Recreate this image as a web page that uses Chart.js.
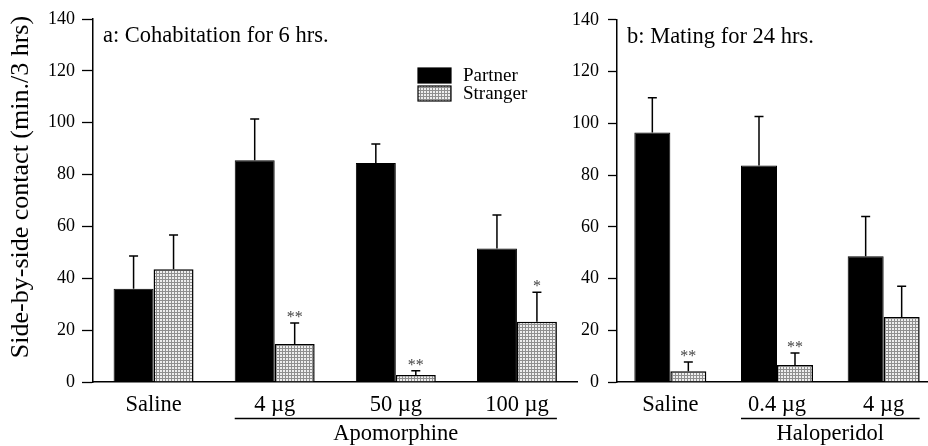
<!DOCTYPE html>
<html>
<head>
<meta charset="utf-8">
<script src="https://cdn.jsdelivr.net/npm/chart.js@4.4.1/dist/chart.umd.min.js"></script>
<style>
  html, body { margin: 0; padding: 0; background: #fff; width: 928px; height: 446px; overflow: hidden; }
  .wrap { position: absolute; top: 0; height: 446px; }
  #wa { left: 0; width: 590px; }
  #wb { left: 540px; width: 400px; }
</style>
</head>
<body>
<div class="wrap" id="wa"><canvas id="ca" width="590" height="446"></canvas></div>
<div class="wrap" id="wb"><canvas id="cb" width="400" height="446"></canvas></div>
<script>
// ---- Data ----
const seriesNames = ['Partner', 'Stranger'];
const yTicks = [0, 20, 40, 60, 80, 100, 120, 140];

const categoriesA = ['Saline', '4 µg', '50 µg', '100 µg'];
const partnerA = [36, 85.5, 84.5, 51.5];
const partnerErrA = [12.6, 15.9, 7.3, 12.9];
const strangerA = [43.5, 14.7, 2.7, 23.2];
const strangerErrA = [13.2, 8.1, 1.6, 11.4];
const sigA = ['', '**', '**', '*'];
const titleA = 'a: Cohabitation for 6 hrs.';
const groupA = { label: 'Apomorphine', from: 1, to: 3 };

const categoriesB = ['Saline', '0.4 µg', '4 µg'];
const partnerB = [96.4, 83.7, 48.6];
const partnerErrB = [13.5, 18.9, 15.4];
const strangerB = [4.2, 6.6, 25.1];
const strangerErrB = [3.5, 4.6, 11.9];
const sigB = ['**', '**', ''];
const titleB = 'b: Mating for 24 hrs.';
const groupB = { label: 'Haloperidol', from: 1, to: 2 };

const yTitle = 'Side-by-side contact (min./3 hrs)';

// ---- Styles ----
const FONT = "'Liberation Serif', 'Times New Roman', serif";

function makePattern() {
  const t = document.createElement('canvas');
  t.width = 3; t.height = 3;
  const c = t.getContext('2d');
  c.fillStyle = '#eeeeee';
  c.fillRect(0, 0, 3, 3);
  c.fillStyle = '#8f8f8f';
  c.fillRect(0, 0, 3, 1);
  c.fillRect(0, 0, 1, 3);
  return c.createPattern(t, 'repeat');
}
const strangerFill = makePattern();

const extras = {
  id: 'extras',
  afterDatasetsDraw(chart, args, opts) {
    const ctx = chart.ctx;
    const ys = chart.scales.y;
    const ca = chart.chartArea;
    ctx.save();
    // error bars
    ctx.strokeStyle = '#000';
    ctx.lineWidth = 1.5;
    opts.errors.forEach((errs, d) => {
      const meta = chart.getDatasetMeta(d);
      const vals = chart.data.datasets[d].data;
      meta.data.forEach((el, i) => {
        const top = ys.getPixelForValue(vals[i] + errs[i]);
        ctx.beginPath();
        ctx.moveTo(el.x, el.y);
        ctx.lineTo(el.x, top);
        ctx.moveTo(el.x - 4.5, top);
        ctx.lineTo(el.x + 4.5, top);
        ctx.stroke();
        if (d === 1 && opts.sig[i]) {
          ctx.fillStyle = '#444';
          ctx.font = '16px ' + FONT;
          ctx.textAlign = 'center';
          ctx.textBaseline = 'alphabetic';
          ctx.fillText(opts.sig[i], el.x, top - 1);
        }
      });
    });
    // panel title
    ctx.fillStyle = '#000';
    ctx.font = '22.5px ' + FONT;
    ctx.textAlign = 'left';
    ctx.textBaseline = 'alphabetic';
    ctx.fillText(opts.title, ca.left + 10, ca.top + 23);
    // group underline + label
    const m0 = chart.getDatasetMeta(0), m1 = chart.getDatasetMeta(1);
    const x0 = m0.data[opts.group.from].x - m0.data[opts.group.from].width / 2;
    const x1 = m1.data[opts.group.to].x + m1.data[opts.group.to].width / 2;
    ctx.lineWidth = 1.3;
    ctx.beginPath();
    ctx.moveTo(x0, ca.bottom + 36.5);
    ctx.lineTo(x1, ca.bottom + 36.5);
    ctx.stroke();
    ctx.font = '22.5px ' + FONT;
    ctx.textAlign = 'center';
    ctx.fillText(opts.group.label, (x0 + x1) / 2, ca.bottom + 58);
    // y title
    if (opts.yTitle) {
      ctx.save();
      ctx.translate(21, 187);
      ctx.rotate(-Math.PI / 2);
      ctx.font = '26px ' + FONT;
      ctx.textAlign = 'center';
      ctx.textBaseline = 'middle';
      ctx.fillText(opts.yTitle, 0, 0);
      ctx.restore();
    }
    // legend
    if (opts.legend) {
      const lx = ca.left + 325, ly = ca.top + 49;
      chart.data.datasets.forEach((ds, d) => {
        const by = ly + d * 18;
        ctx.fillStyle = ds.backgroundColor;
        ctx.fillRect(lx, by, 33, 15);
        ctx.strokeStyle = '#000';
        ctx.lineWidth = 1.2;
        ctx.strokeRect(lx, by, 33, 15);
        ctx.fillStyle = '#000';
        ctx.font = '19px ' + FONT;
        ctx.textAlign = 'left';
        ctx.textBaseline = 'middle';
        ctx.fillText(ds.label, lx + 45, by + 8);
      });
    }
    ctx.restore();
  }
};

function makeChart(id, cats, p, s, ep, es, sig, title, group, opt) {
  return new Chart(document.getElementById(id), {
    type: 'bar',
    data: {
      labels: cats,
      datasets: [
        { label: seriesNames[0], data: p, backgroundColor: '#000', borderColor: '#000', borderWidth: 1 },
        { label: seriesNames[1], data: s, backgroundColor: strangerFill, borderColor: '#000', borderWidth: 1.5 }
      ]
    },
    plugins: [extras],
    options: {
      responsive: false,
      animation: false,
      layout: { padding: { top: 19, right: opt.padRight, left: 0, bottom: 0 } },
      datasets: { bar: { categoryPercentage: opt.catPct, barPercentage: 1.0 } },
      plugins: {
        legend: { display: false },
        tooltip: { enabled: false },
        extras: { errors: [ep, es], sig: sig, title: title, group: group, legend: opt.legend, yTitle: opt.yTitle }
      },
      scales: {
        x: {
          type: 'category',
          offset: true,
          grid: { display: false, drawTicks: false },
          border: { display: true, color: '#000', width: 1.5 },
          ticks: { color: '#000', font: { family: FONT, size: 22.5 }, padding: 10, maxRotation: 0 },
          afterFit(scale) { scale.height = 64; }
        },
        y: {
          min: 0, max: 140,
          afterBuildTicks(scale) { scale.ticks = yTicks.map(v => ({ value: v })); },
          grid: { drawOnChartArea: false, drawTicks: true, tickLength: opt.tickLen, color: '#000', tickWidth: 1.3 },
          border: { display: true, color: '#000', width: 1.5 },
          ticks: { color: '#000', font: { family: FONT, size: 18 }, padding: opt.tickPad },
          afterFit(scale) { scale.width = opt.yWidth; }
        }
      }
    }
  });
}

makeChart('ca', categoriesA, partnerA, strangerA, partnerErrA, strangerErrA, sigA, titleA, groupA,
  { padRight: 12.5, catPct: 0.66, tickLen: 11, tickPad: 7, yWidth: 93, legend: true, yTitle: yTitle });
makeChart('cb', categoriesB, partnerB, strangerB, partnerErrB, strangerErrB, sigB, titleB, groupB,
  { padRight: 3, catPct: 0.675, tickLen: 9, tickPad: 9, yWidth: 77, legend: false, yTitle: '' });
</script>
</body>
</html>
